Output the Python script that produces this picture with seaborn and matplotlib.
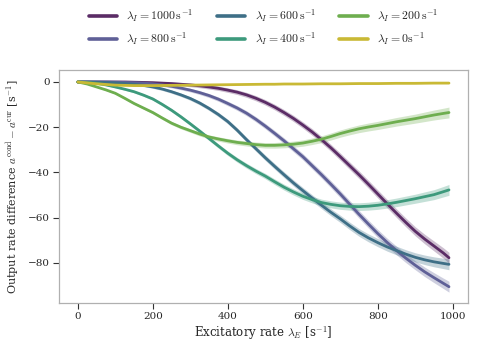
import numpy as np
import pandas as pd
import matplotlib
matplotlib.use("Agg")
import matplotlib.pyplot as plt
import seaborn as sns

# excitatory rates (s^-1)
rate_e = [0, 25, 50, 75, 100, 125, 150, 175, 200, 225, 250, 275, 300, 325, 350,
          375, 400, 425, 450, 475, 500, 525, 550, 575, 600, 625, 650, 675, 700,
          725, 750, 775, 800, 825, 850, 875, 900, 925, 950, 975, 990]

# mean output rate difference for each inhibitory rate
diff_1000 = [0, 0, 0, 0, 0, 0, -0.1, -0.2, -0.3, -0.5, -0.7, -1.0, -1.3, -1.7, -2.2,
             -2.8, -3.6, -4.5, -5.7, -7.2, -9.0, -11.1, -13.5, -16.1, -19.0, -22.1,
             -25.5, -29.1, -33.0, -37.0, -41.0, -45.2, -49.5, -53.8, -58.0, -62.1,
             -66.0, -69.4, -72.5, -75.6, -77.7]
diff_800 = [0, 0, 0, 0, -0.1, -0.2, -0.3, -0.5, -0.8, -1.3, -1.9, -2.7, -3.6, -4.7,
            -6.0, -7.6, -9.5, -11.5, -13.8, -16.5, -19.5, -22.7, -26.0, -29.5, -33.0,
            -37.0, -41.0, -45.2, -49.5, -54.0, -58.5, -62.8, -67.0, -70.9, -74.5,
            -77.9, -81.0, -83.9, -86.5, -89.0, -90.5]
diff_600 = [0, 0, -0.1, -0.2, -0.4, -0.7, -1.0, -1.5, -2.2, -3.1, -4.3, -5.7, -7.3,
            -9.3, -11.7, -14.4, -17.5, -21.3, -25.5, -29.5, -33.5, -37.3, -41.0,
            -44.6, -48.0, -51.3, -54.5, -57.6, -60.5, -63.6, -66.5, -68.9, -71.0,
            -72.9, -74.5, -76.1, -77.5, -78.6, -79.5, -80.2, -80.6]
diff_400 = [0, -0.2, -0.6, -1.3, -2.2, -3.2, -4.3, -5.8, -7.5, -9.9, -12.5, -15.4,
            -18.5, -21.7, -25.0, -28.3, -31.5, -34.4, -37.0, -39.4, -41.6, -44.1,
            -46.5, -48.6, -50.5, -52.0, -53.3, -54.1, -54.7, -55.0, -55.1, -54.9,
            -54.5, -53.9, -53.2, -52.4, -51.6, -50.7, -49.8, -48.5, -47.7]
diff_200 = [0, -0.9, -2.2, -3.5, -5.0, -7.2, -9.5, -11.5, -13.5, -15.9, -18.2, -20.0,
            -21.5, -23.0, -24.3, -25.2, -26.0, -26.7, -27.2, -27.7, -28.0, -28.0,
            -27.8, -27.5, -27.0, -26.2, -25.3, -24.1, -22.8, -21.7, -20.7, -19.9,
            -19.2, -18.4, -17.6, -16.9, -16.2, -15.4, -14.6, -13.9, -13.5]
diff_0 = [0, -0.4, -0.8, -1.1, -1.4, -1.5, -1.6, -1.6, -1.6, -1.55, -1.5, -1.45, -1.4,
          -1.35, -1.3, -1.25, -1.2, -1.15, -1.1, -1.05, -1.0, -1.0, -0.9, -0.9, -0.9,
          -0.85, -0.8, -0.8, -0.8, -0.75, -0.7, -0.7, -0.7, -0.65, -0.6, -0.6, -0.6,
          -0.55, -0.5, -0.5, -0.5]

# half width of the shaded band
spread = [0, 0.1, 0.2, 0.3, 0.4, 0.45, 0.5, 0.55, 0.6, 0.65, 0.7, 0.75, 0.8, 0.85,
          0.9, 0.95, 1.0, 1.05, 1.1, 1.15, 1.2, 1.25, 1.3, 1.35, 1.4, 1.45, 1.5,
          1.55, 1.6, 1.65, 1.7, 1.75, 1.8, 1.85, 1.9, 1.95, 2.0, 2.1, 2.2, 2.3, 2.4]
spread_zero = [0] + [0.1] * 40

labels = [r"$\lambda_I = 1000\,\mathrm{s}^{-1}$", r"$\lambda_I = 800\,\mathrm{s}^{-1}$",
          r"$\lambda_I = 600\,\mathrm{s}^{-1}$", r"$\lambda_I = 400\,\mathrm{s}^{-1}$",
          r"$\lambda_I = 200\,\mathrm{s}^{-1}$", r"$\lambda_I = 0\mathrm{s}^{-1}$"]
series = [diff_1000, diff_800, diff_600, diff_400, diff_200, diff_0]
colors = ["#5b2c66", "#5f6097", "#3e6f87", "#3d9a7c", "#6eae4f", "#c9b935"]

rows = []
for lab, vals in zip(labels, series):
    sp = spread_zero if lab == labels[-1] else spread
    for x, m, s in zip(rate_e, vals, sp):
        for v in (m - s, m, m + s):
            rows.append({"rate": x, "diff": v, "lam": lab})
df = pd.DataFrame(rows)

sns.set_theme(style="white")
plt.rcParams["font.family"] = ["DejaVu Serif"]
plt.rcParams["mathtext.fontset"] = "cm"

fig = plt.figure(figsize=(4.82, 3.52), dpi=100)
ax = fig.add_axes([0.123, 0.140, 0.847, 0.660])

sns.lineplot(data=df, x="rate", y="diff", hue="lam", hue_order=labels,
             palette=dict(zip(labels, colors)), estimator="mean",
             errorbar=("pi", 100), err_kws={"alpha": 0.3, "linewidth": 0},
             linewidth=2.0, ax=ax)

ax.set_xlabel(r"Excitatory rate $\lambda_E$ [s$^{-1}$]", fontsize=8.5, labelpad=2)
ax.set_ylabel(r"Output rate difference $a^{\mathrm{cond}} - a^{\mathrm{cur}}$ [s$^{-1}$]",
              fontsize=8, labelpad=5)
ax.set_xticks([0, 200, 400, 600, 800, 1000])
ax.set_yticks([0, -20, -40, -60, -80])
ax.tick_params(axis="both", which="major", bottom=True, left=True, direction="out",
               length=4, width=0.8, color="#333333", labelsize=7.5, pad=3)
for sp_ in ax.spines.values():
    sp_.set_color("#b0b0b0")
    sp_.set_linewidth(0.9)

handles, labs = ax.get_legend_handles_labels()
for h in handles:
    h.set_linewidth(2.6)
ax.legend(handles, labs, ncol=3, loc="lower center", bbox_to_anchor=(0.5, 1.08),
          frameon=False, fontsize=8.5, handlelength=2.4, columnspacing=2.0,
          labelspacing=0.5, handletextpad=0.8, borderaxespad=0)

fig.savefig("out.png", dpi=100)
